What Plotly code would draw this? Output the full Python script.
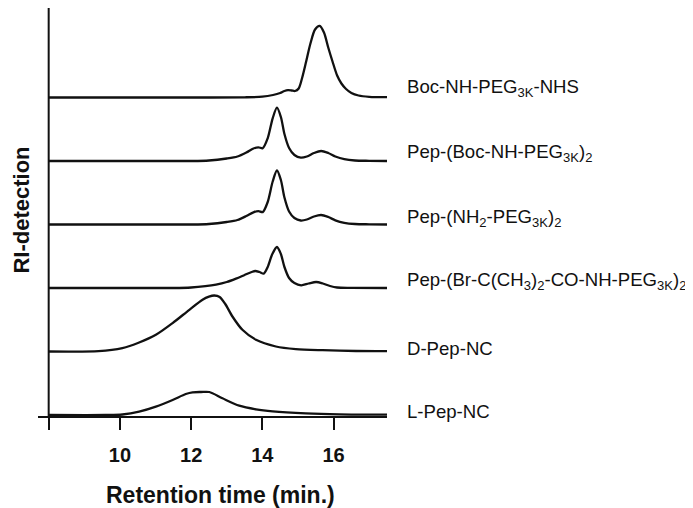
import plotly.graph_objects as go

# GPC traces, retention time (min) vs RI signal (arbitrary units, pixel-like)
names = [
    "Boc-NH-PEG<sub>3K</sub>-NHS",
    "Pep-(Boc-NH-PEG<sub>3K</sub>)<sub>2</sub>",
    "Pep-(NH<sub>2</sub>-PEG<sub>3K</sub>)<sub>2</sub>",
    "Pep-(Br-C(CH<sub>3</sub>)<sub>2</sub>-CO-NH-PEG<sub>3K</sub>)<sub>2</sub>",
    "D-Pep-NC",
    "L-Pep-NC",
]

t_boc = [8.0, 12.0, 13.5, 14.0, 14.3, 14.5, 14.62, 14.72, 14.82, 14.92, 15.02, 15.12, 15.23,
         15.35, 15.48, 15.61, 15.73, 15.85, 15.97, 16.1, 16.22, 16.35, 16.5, 16.7, 17.0, 17.5]
s_boc = [0, 0, 0.2, 0.8, 2.5, 4.5, 6.5, 7.3, 7.0, 6.5, 9, 20, 36,
         54, 68, 71.6, 65, 50, 36, 22, 14, 8.5, 4.5, 2.0, 0.7, 0.3]

t_pep_boc = [8.0, 12.0, 12.5, 13.0, 13.3, 13.55, 13.75, 13.89, 14.01, 14.15, 14.29, 14.41, 14.52,
             14.62, 14.75, 14.9, 15.08, 15.25, 15.45, 15.65, 15.85, 16.05, 16.3, 16.6, 17.0, 17.5]
s_pep_boc = [0, 0, 0.5, 2.5, 4.5, 8.5, 12.5, 13.7, 12.8, 22.7, 42.7, 53.3, 44,
             27, 13, 6, 3.3, 4.5, 8, 10, 8, 4.5, 1.8, 0.5, 0.2, 0]

t_pep_nh2 = t_pep_boc
s_pep_nh2 = [0, 0, 0.5, 2.5, 4.5, 8.5, 12.2, 13.3, 12.4, 22.5, 43, 54, 44.5,
             27, 13, 6.5, 4, 5, 8, 9.5, 7.5, 4.2, 1.7, 0.5, 0.2, 0]

t_pep_br = [8.0, 11.5, 12.0, 12.4, 12.7, 13.0, 13.26, 13.5, 13.7, 13.8, 13.92, 14.04, 14.15, 14.28,
            14.41, 14.52, 14.62, 14.75, 14.9, 15.09, 15.3, 15.51, 15.7, 15.9, 16.1, 16.5, 17.5]
s_pep_br = [0, 0, 0.5, 1.8, 3.4, 6, 9.4, 13, 16, 17, 16, 14.4, 21, 34,
            41, 34, 21, 10, 5, 2.7, 4.5, 6, 4.5, 2, 0.5, 0.2, 0]

t_d = [8.0, 9.4, 10.07, 10.54, 11.01, 11.48, 11.95, 12.32, 12.5, 12.65, 12.8, 12.95, 13.16,
       13.44, 13.82, 14.38, 14.94, 15.69, 16.63, 17.5]
s_d = [0, 0.3, 3.4, 9, 16.7, 28.4, 41.7, 51.7, 54.8, 56, 54.5, 48, 35,
       21.7, 11.7, 5, 2.4, 1.3, 0.5, 0.3]

t_l = [8.0, 9.6, 10.07, 10.54, 11.01, 11.48, 11.85, 12.04, 12.28, 12.51, 12.88, 13.35, 13.82,
       14.29, 15.22, 16.16, 17.5]
s_l = [0, 0, 0.5, 3.3, 8.3, 15, 21, 22.7, 23, 23, 16.7, 9.3, 5.7,
       3.7, 1.7, 0.7, 0.3]

times = [t_boc, t_pep_boc, t_pep_nh2, t_pep_br, t_d, t_l]
signals = [s_boc, s_pep_boc, s_pep_nh2, s_pep_br, s_d, s_l]

# vertical stacking of the traces and label lift above each baseline
offsets = [317.5, 254, 190.5, 127, 63.5, 0]
label_lift = [10, 8, 7, 7, 3.5, 3.5]

FONT = "Liberation Sans, Arial, sans-serif"

fig = go.Figure()
for t, s, off in zip(times, signals, offsets):
    fig.add_trace(go.Scatter(
        x=t, y=[v + off for v in s], mode="lines",
        line=dict(color="#111111", width=2.3, shape="spline", smoothing=0.8),
        showlegend=False, hoverinfo="skip"))

for name, off, lift in zip(names, offsets, label_lift):
    fig.add_annotation(x=1.051, xref="paper", y=off + lift, yref="y", text=name,
                       showarrow=False, xanchor="left", yanchor="middle",
                       font=dict(family=FONT, size=18.6, color="#111111"))

# y axis line sits at t = 8
fig.add_shape(type="line", x0=8, x1=8, xref="x", y0=0, y1=1, yref="paper",
              line=dict(color="#111111", width=2))

fig.add_annotation(x=-0.047, xref="paper", y=0.505, yref="paper", text="<b>RI-detection</b>",
                   textangle=-90, showarrow=False, xanchor="center", yanchor="middle",
                   font=dict(family=FONT, size=22, color="#111111"))
fig.add_annotation(x=0.524, xref="paper", y=-0.194, yref="paper",
                   text="<b>Retention time (min.)</b>", showarrow=False,
                   xanchor="center", yanchor="middle",
                   font=dict(family=FONT, size=23, color="#111111"))

fig.update_xaxes(range=[7.7, 17.5], showline=True, linecolor="#111111", linewidth=2,
                 ticks="outside", ticklen=12, tickwidth=2, tickcolor="#111111",
                 tickvals=[8, 10, 12, 14, 16], ticktext=["", "<b>10</b>", "<b>12</b>", "<b>14</b>", "<b>16</b>"],
                 ticklabelstandoff=8, showgrid=False, zeroline=False,
                 tickfont=dict(family=FONT, size=20, color="#111111"))
fig.update_yaxes(range=[-1, 407], showline=False, showticklabels=False, ticks="",
                 showgrid=False, zeroline=False)

# page body adds an 8px offset, so the figure is 8px smaller than the window
fig.update_layout(width=685, height=500, plot_bgcolor="white", paper_bgcolor="white",
                  margin=dict(l=30, r=306, t=0, b=92))

fig.write_html("out.html")
